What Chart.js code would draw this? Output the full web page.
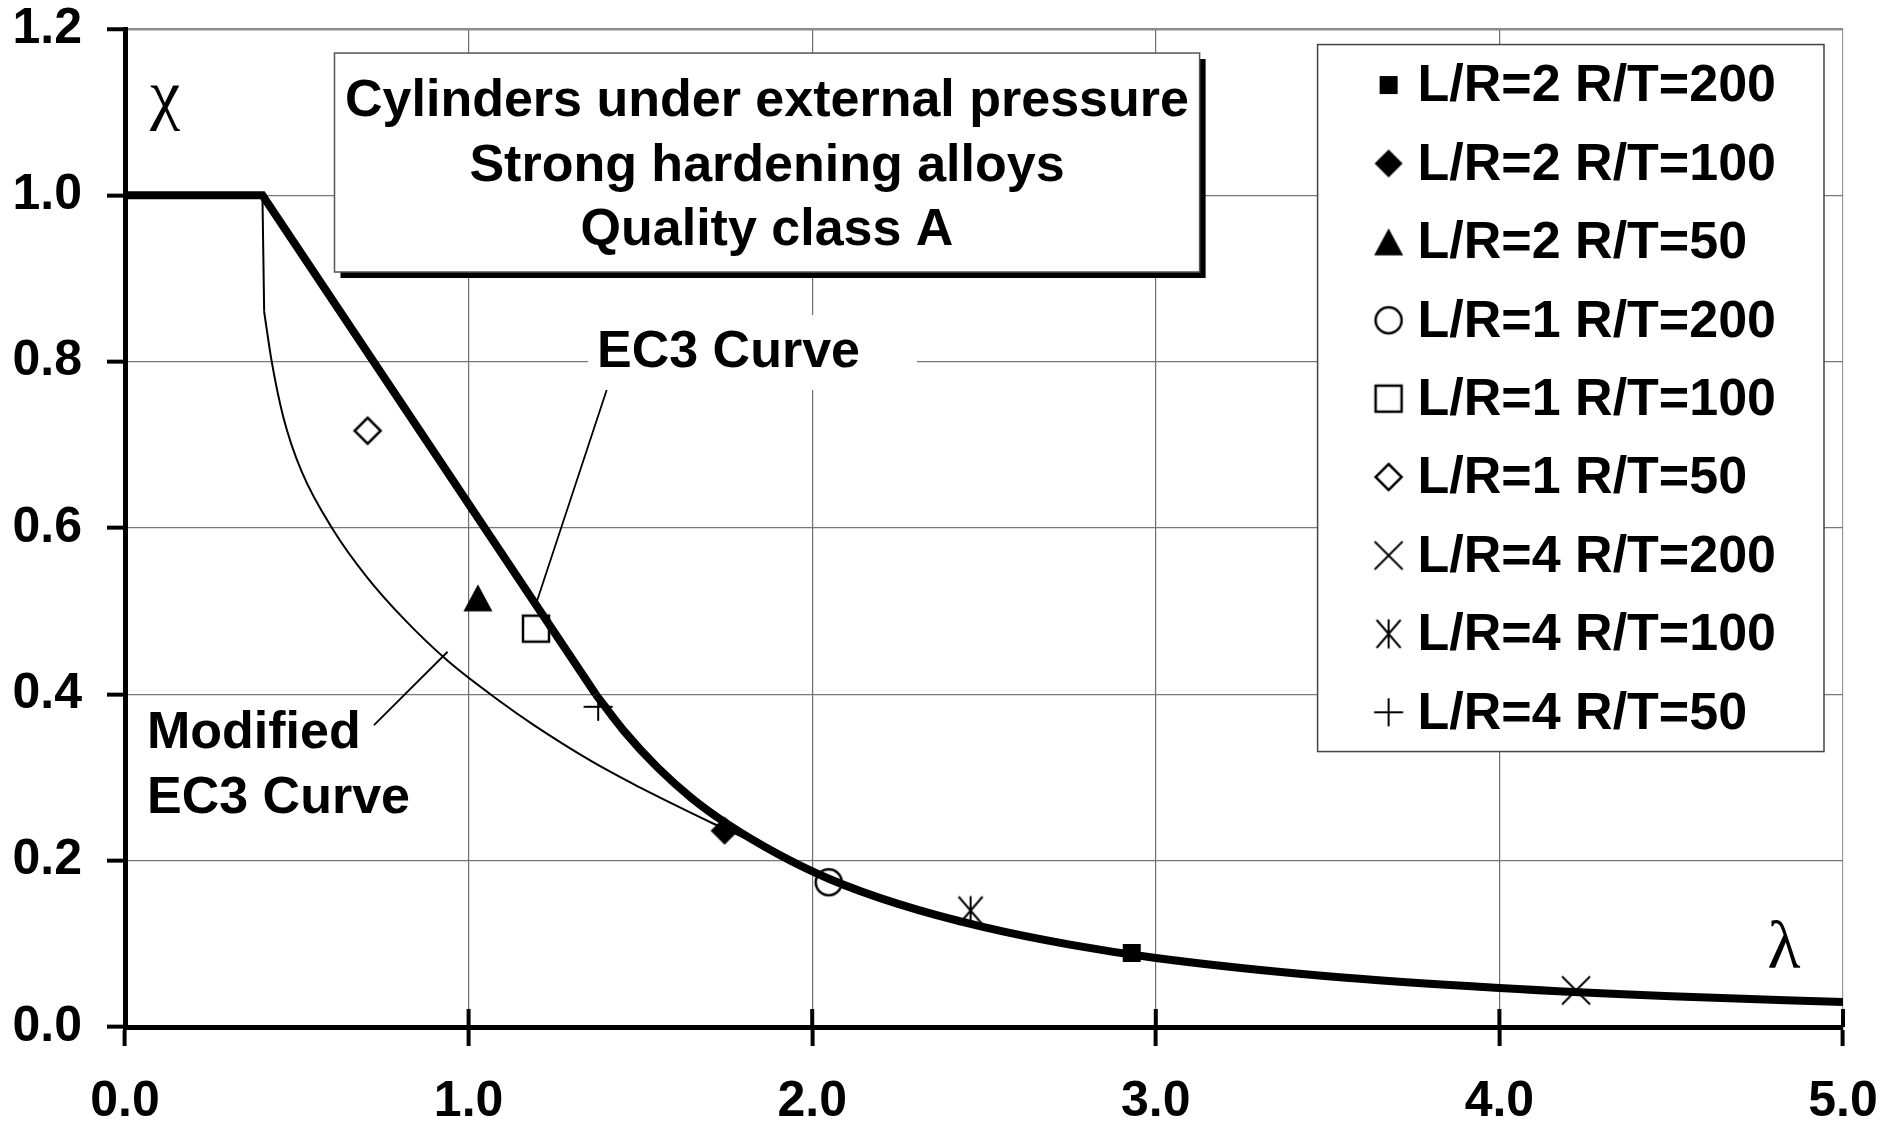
<!DOCTYPE html>
<html>
<head>
<meta charset="utf-8">
<script src="https://cdn.jsdelivr.net/npm/chart.js@4.4.1/dist/chart.umd.min.js"></script>
<style>
  html, body { margin: 0; padding: 0; background: #fff; }
  canvas { display: block; }
</style>
</head>
<body>
<canvas id="myChart" width="1882" height="1126"></canvas>
<script>
// axis ticks
const xTickValues = [0, 1, 2, 3, 4, 5];
const xTickLabels = ['0.0', '1.0', '2.0', '3.0', '4.0', '5.0'];
const yTickValues = [0, 0.2, 0.4, 0.6, 0.8, 1.0, 1.2];
const yTickLabels = ['0.0', '0.2', '0.4', '0.6', '0.8', '1.0', '1.2'];

// test results (lambda, chi)
const seriesLabels = ['L/R=2 R/T=200', 'L/R=2 R/T=100', 'L/R=2 R/T=50',
                      'L/R=1 R/T=200', 'L/R=1 R/T=100', 'L/R=1 R/T=50',
                      'L/R=4 R/T=200', 'L/R=4 R/T=100', 'L/R=4 R/T=50'];
const seriesLambda = [2.93, 1.745, 1.027, 2.048, 1.196, 0.706, 4.223, 2.461, 1.377];
const seriesChi    = [0.089, 0.236, 0.516, 0.174, 0.479, 0.717, 0.044, 0.140, 0.385];
const markerKinds  = ['squareFilled', 'diamondFilled', 'triangleFilled',
                      'circleOpen', 'squareOpen', 'diamondOpen',
                      'cross', 'asterisk', 'plus'];

// EC3 curve: plateau + straight branch, then the hyperbolic tail
const ec3LinLambda = [0, 0.4, 1.37];
const ec3LinChi    = [1.0, 1.0, 0.40];
const ec3TailLambda = [1.37, 1.45, 1.55, 1.65, 1.75, 1.9, 2.05, 2.25, 2.5, 2.75, 3.0, 3.5, 4.0, 4.5, 5.0];
const ec3TailChi    = [0.40, 0.357, 0.312, 0.275, 0.245, 0.208, 0.178, 0.148, 0.120, 0.099, 0.083, 0.061, 0.047, 0.037, 0.030];

// modified EC3 curve: short drop at lambda0, then the curved branch
const modDropLambda = [0.4, 0.405];
const modDropChi    = [1.0, 0.86];
const modTailLambda = [0.405, 0.427, 0.461, 0.514, 0.607, 0.704, 0.811, 0.94, 1.09, 1.19, 1.36, 1.48, 1.60, 1.71, 1.80, 2.0, 2.5, 3.0, 4.0, 5.0];
const modTailChi    = [0.86, 0.80, 0.733, 0.668, 0.597, 0.541, 0.491, 0.440, 0.392, 0.363, 0.319, 0.292, 0.267, 0.245, 0.228, 0.1875, 0.120, 0.083, 0.047, 0.030];

const FONT = 'Liberation Sans, Arial, sans-serif';
const SERIF = 'Liberation Serif, Times New Roman, serif';

function toPoints(xs, ys) {
    return xs.map((x, i) => ({ x: x, y: ys[i] }));
}

function diamondPath(g, r) {
    g.beginPath();
    g.moveTo(0, -r); g.lineTo(r, 0); g.lineTo(0, r); g.lineTo(-r, 0);
    g.closePath();
}

// small canvases used as point styles (plot and legend)
function markerCanvas(kind) {
    const cv = document.createElement('canvas');
    cv.width = 40; cv.height = 40;
    const g = cv.getContext('2d');
    g.translate(20, 20);
    g.fillStyle = '#000';
    g.strokeStyle = '#000';
    g.lineWidth = 2.5;
    switch (kind) {
        case 'squareFilled':
            g.fillRect(-9, -9, 18, 18);
            break;
        case 'diamondFilled':
            diamondPath(g, 14); g.fill();
            break;
        case 'triangleFilled':
            g.beginPath();
            g.moveTo(0, -13.5); g.lineTo(14.5, 13.5); g.lineTo(-14.5, 13.5);
            g.closePath(); g.fill();
            break;
        case 'circleOpen':
            g.beginPath(); g.arc(0, 0, 13, 0, 2 * Math.PI); g.stroke();
            break;
        case 'squareOpen':
            g.strokeRect(-13, -13, 26, 26);
            break;
        case 'diamondOpen':
            diamondPath(g, 13); g.stroke();
            break;
        case 'cross':
            g.lineWidth = 2;
            g.beginPath();
            g.moveTo(-14, -14); g.lineTo(14, 14);
            g.moveTo(14, -14); g.lineTo(-14, 14);
            g.stroke();
            break;
        case 'asterisk':
            g.lineWidth = 2;
            g.beginPath();
            g.moveTo(-12, -14); g.lineTo(12, 14);
            g.moveTo(12, -14); g.lineTo(-12, 14);
            g.moveTo(0, -14.5); g.lineTo(0, 14.5);
            g.stroke();
            break;
        case 'plus':
            g.lineWidth = 2;
            g.beginPath();
            g.moveTo(-14.5, 0); g.lineTo(14.5, 0);
            g.moveTo(0, -14); g.lineTo(0, 14);
            g.stroke();
            break;
    }
    return cv;
}

const markers = markerKinds.map(markerCanvas);

const markerSets = seriesLabels.map((label, i) => ({
    label: label,
    data: [{ x: seriesLambda[i], y: seriesChi[i] }],
    showLine: false,
    pointStyle: markers[i],
    pointRadius: 14,
    order: 0
}));

const curveSets = [
    {
        label: 'EC3 Curve',
        data: toPoints(ec3LinLambda, ec3LinChi),
        borderColor: '#000', borderWidth: 8, pointRadius: 0,
        tension: 0, borderCapStyle: 'butt', borderJoinStyle: 'miter',
        order: 1
    },
    {
        label: 'EC3 Curve tail',
        data: toPoints(ec3TailLambda, ec3TailChi),
        borderColor: '#000', borderWidth: 8, pointRadius: 0,
        cubicInterpolationMode: 'monotone', borderCapStyle: 'butt',
        order: 1
    },
    {
        label: 'Modified EC3 Curve',
        data: toPoints(modDropLambda, modDropChi),
        borderColor: '#000', borderWidth: 2, pointRadius: 0,
        tension: 0, order: 2
    },
    {
        label: 'Modified EC3 Curve tail',
        data: toPoints(modTailLambda, modTailChi),
        borderColor: '#000', borderWidth: 2, pointRadius: 0,
        cubicInterpolationMode: 'monotone', order: 2
    }
];

// boxes, labels, leader lines and legend drawn over the plot
const overlayPlugin = {
    id: 'overlay',
    afterDatasetsDraw(chart) {
        const c = chart.ctx;
        const xs = chart.scales.x, ys = chart.scales.y;
        const px = v => xs.getPixelForValue(v);
        const py = v => ys.getPixelForValue(v);
        c.save();

        // inner half of the x-axis tick marks
        c.strokeStyle = '#000';
        c.lineWidth = 4;
        xTickValues.forEach(v => {
            c.beginPath();
            c.moveTo(px(v), py(0));
            c.lineTo(px(v), py(0) - 18);
            c.stroke();
        });

        // leader lines
        c.lineWidth = 1.8;
        c.beginPath();
        c.moveTo(px(1.4028), py(0.7671)); c.lineTo(px(1.1991), py(0.5122));
        c.moveTo(px(0.7247), py(0.3631)); c.lineTo(px(0.9389), py(0.4512));
        c.stroke();

        // title box with drop shadow
        const bx1 = px(0.6097), by1 = py(1.1711), bx2 = px(3.1275), by2 = py(0.9078);
        c.fillStyle = '#000';
        c.fillRect(bx1 + 6, by1 + 6, bx2 - bx1, by2 - by1);
        c.fillStyle = '#fff';
        c.fillRect(bx1, by1, bx2 - bx1, by2 - by1);
        c.strokeStyle = '#555';
        c.lineWidth = 1.5;
        c.strokeRect(bx1, by1, bx2 - bx1, by2 - by1);

        c.fillStyle = '#000';
        c.font = 'bold 52px ' + FONT;
        c.textAlign = 'center';
        c.textBaseline = 'alphabetic';
        const cx = px(1.8684);
        c.fillText('Cylinders under external pressure', cx, py(1.0953));
        c.fillText('Strong hardening alloys', cx, py(1.0178));
        c.fillText('Quality class A', cx, py(0.9402));

        // EC3 curve label on a white patch
        c.fillStyle = '#fff';
        c.fillRect(px(1.3475), py(0.8561), px(2.305) - px(1.3475), py(0.7659) - py(0.8561));
        c.fillStyle = '#000';
        c.textAlign = 'left';
        c.fillText('EC3 Curve', px(1.3737), py(0.7939));

        c.fillText('Modified', px(0.064), py(0.3351));
        c.fillText('EC3 Curve', px(0.064), py(0.2577));

        // axis symbols
        c.font = '68px ' + SERIF;
        c.textAlign = 'center';
        c.fillText('\u03c7', px(0.1164), py(1.0942));
        c.fillText('\u03bb', px(4.828), py(0.0709));

        // legend
        const lx1 = px(3.4709), ly1 = py(1.1813), lx2 = px(4.9447), ly2 = py(0.3312);
        c.fillStyle = '#fff';
        c.fillRect(lx1, ly1, lx2 - lx1, ly2 - ly1);
        c.strokeStyle = '#444';
        c.lineWidth = 1.5;
        c.strokeRect(lx1, ly1, lx2 - lx1, ly2 - ly1);

        c.font = 'bold 52px ' + FONT;
        c.textAlign = 'left';
        c.textBaseline = 'middle';
        c.fillStyle = '#000';
        seriesLabels.forEach((label, i) => {
            const rowY = ly1 + 40.5 + i * 78.4;
            const m = markers[i];
            c.drawImage(m, lx1 + 71 - m.width / 2, rowY - m.height / 2);
            c.fillText(label, lx1 + 100, rowY + 2);
        });

        c.restore();
    }
};

const ctx = document.getElementById('myChart').getContext('2d');

const myChart = new Chart(ctx, {
    type: 'line',
    data: { datasets: markerSets.concat(curveSets) },
    plugins: [overlayPlugin],
    options: {
        responsive: false,
        animation: false,
        layout: {
            autoPadding: false,
            padding: { top: 29, right: 39, left: 0, bottom: 0 }
        },
        plugins: {
            legend: { display: false },
            tooltip: { enabled: false }
        },
        scales: {
            x: {
                type: 'linear',
                min: 0, max: 5,
                afterBuildTicks: s => { s.ticks = xTickValues.map(v => ({ value: v })); },
                // fixed axis band; labels may overhang the plot edges
                afterFit: s => { s.height = 99; s.paddingLeft = 0; s.paddingRight = 0; },
                ticks: {
                    callback: (v, i) => xTickLabels[i],
                    color: '#000',
                    font: { family: FONT, size: 50, weight: 'bold' },
                    padding: 26,
                    maxRotation: 0
                },
                grid: {
                    color: c => (c.tick && c.tick.value === 5) ? '#9a9a9a' : '#6e6e6e',
                    lineWidth: 1.2,
                    tickColor: '#000',
                    tickWidth: 4,
                    tickLength: 19
                },
                border: { color: '#000', width: 5 }
            },
            y: {
                type: 'linear',
                min: 0, max: 1.2,
                afterBuildTicks: s => { s.ticks = yTickValues.map(v => ({ value: v })); },
                afterFit: s => { s.width = 125; s.paddingTop = 0; s.paddingBottom = 0; },
                ticks: {
                    callback: (v, i) => yTickLabels[i],
                    color: '#000',
                    font: { family: FONT, size: 50, weight: 'bold' },
                    padding: 25
                },
                grid: {
                    color: c => (c.tick && c.tick.value === 1.2) ? '#8c8c8c' : '#777',
                    lineWidth: c => (c.tick && c.tick.value === 1.2) ? 2.5 : 1.3,
                    tickColor: '#000',
                    tickWidth: 4,
                    tickLength: 18
                },
                border: { color: '#000', width: 5 }
            }
        }
    }
});
</script>
</body>
</html>
